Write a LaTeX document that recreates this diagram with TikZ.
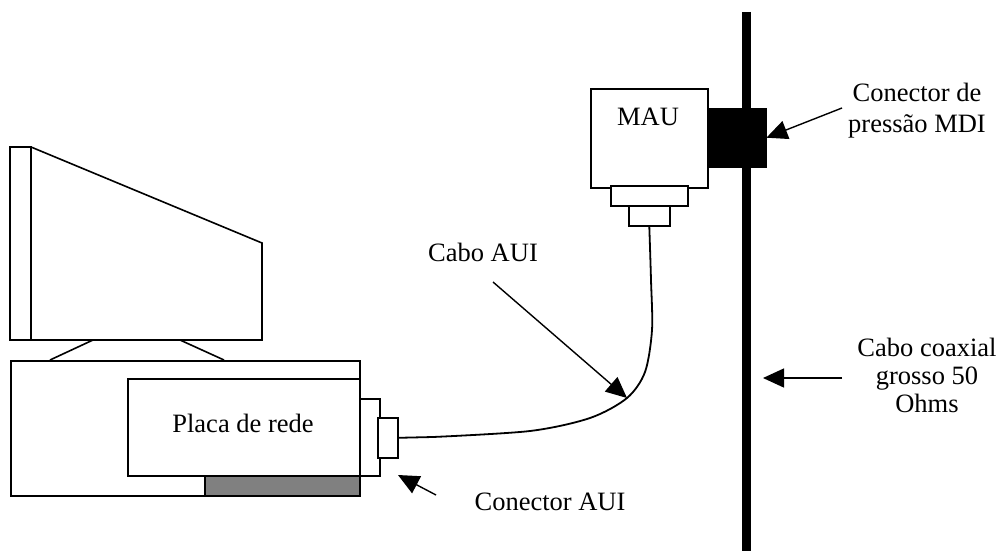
\documentclass[tikz,border=0pt]{standalone}
\usepackage{fontspec}
\setmainfont{Liberation Serif}
\usetikzlibrary{arrows.meta}
\definecolor{cardgrey}{gray}{0.5}

\begin{document}
\begin{tikzpicture}[
	x=1pt, y=-1pt,
	line join=miter,
	outline/.style={draw, line width=1.6pt},
	part/.style={outline, fill=white, inner sep=0pt, anchor=north west},
	lbl/.style={font=\fontsize{26.5}{31}\selectfont, align=center, inner sep=0pt},
	pointer/.style={line width=1.4pt, -{Triangle[length=21pt,width=19pt]}},
	cable/.style={line width=1.8pt}
]
\useasboundingbox (0,0) rectangle (1000,551);

\draw[outline] (10,147) rectangle (31,340);
\draw[outline] (31,147) -- (262,243) -- (262,340) -- (31,340);
\draw[outline] (93,340) -- (50,360) (180,340) -- (224,360);

\node[part, minimum width=349pt, minimum height=135pt] (case) at (10,360) {};
\node[part, minimum width=232pt, minimum height=97pt] (card) at (127,378) {};
\node[lbl] (cardname) at (243,423) {Placa de rede};
\node[part, fill=cardgrey, minimum width=155pt, minimum height=20pt] (slot) at (204,475) {};
\node[part, minimum width=20pt, minimum height=77pt] (bracket) at (359,398) {};
\node[part, minimum width=20pt, minimum height=40pt] (plug) at (377,417) {};

\node[part, minimum width=117pt, minimum height=99pt] (mau) at (590,88) {};
\node[lbl] (mauname) at (648,117) {MAU};
\node[part, minimum width=77pt, minimum height=20pt] (maujack) at (610,185) {};
\node[part, minimum width=41pt, minimum height=20pt] (mauplug) at (628,205) {};
\node[draw, fill=black, inner sep=0pt, anchor=north west,
	minimum width=59pt, minimum height=59pt] (tap) at (707,108) {};

\coordinate (coaxtop) at (746,12);
\coordinate (coaxend) at (746,551);
\draw[line width=9pt] (coaxtop) -- (coaxend);

\coordinate (bend) at (627,398);
\draw[cable] (plug.east) -- (433,437)
	plot[smooth] coordinates {(433,437) (530,431) (590,418) (bend) (645,372) (652,330) (651,280) (mauplug.south)};

\node[lbl] (cabolbl) at (483,252) {Cabo AUI};
\coordinate (cabotail) at (493,282);
\draw[pointer] (cabotail) -- (bend);

\node[lbl] (aulbl) at (550,502) {Conector AUI};
\coordinate (autail) at (436,495);
\coordinate (autip) at (398,475);
\draw[pointer] (autail) -- (autip);

\node[lbl] (mdilbl) at (917,111) {Conector de\\pressão MDI};
\coordinate (mditail) at (842,108);
\draw[pointer] (mditail) -- (tap.east);

\node[lbl, font=\fontsize{26.5}{28}\selectfont] (coaxlbl) at (927,375) {Cabo coaxial\\grosso 50\\Ohms};
\coordinate (coaxtail) at (842,378);
\coordinate (coaxtip) at (763,378);
\draw[pointer] (coaxtail) -- (coaxtip);
\end{tikzpicture}
\end{document}
